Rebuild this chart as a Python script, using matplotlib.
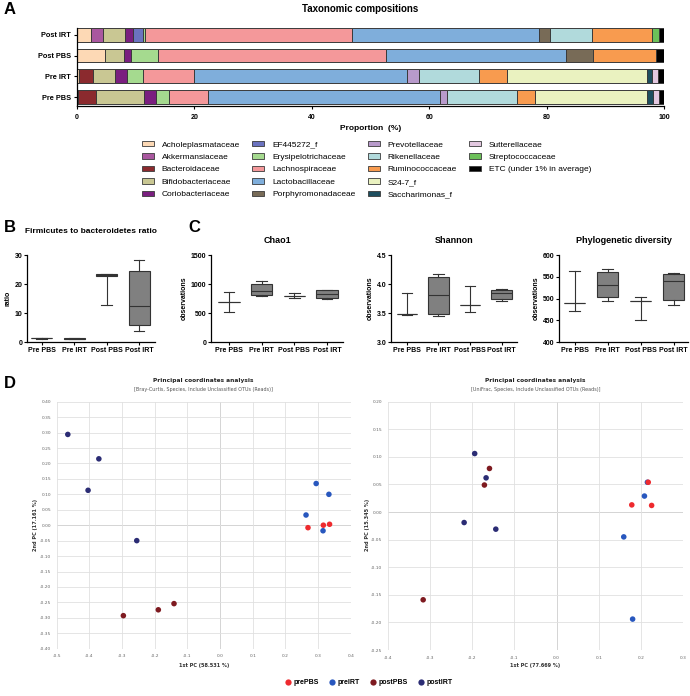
import matplotlib.pyplot as plt
from matplotlib.patches import Patch
from matplotlib.lines import Line2D
from matplotlib.ticker import MultipleLocator, FormatStrFormatter

plt.rcParams['font.family'] = ['Liberation Sans', 'DejaVu Sans']

W, H = 690, 696


def fx(px):
    return px / W


def fy(py):
    return 1 - py / H


def rect(left, top, right, bottom):
    return [fx(left), fy(bottom), (right - left) / W, (bottom - top) / H]


# ---- panel A data ----
groups = ['Pre PBS', 'Pre IRT', 'Post PBS', 'Post IRT']
families = ['Acholeplasmataceae', 'Akkermansiaceae', 'Bacteroidaceae', 'Bifidobacteriaceae',
            'Coriobacteriaceae', 'EF445272_f', 'Erysipelotrichaceae', 'Lachnospiraceae',
            'Lactobacillaceae', 'Porphyromonadaceae', 'Prevotellaceae', 'Rikenellaceae',
            'Ruminococcaceae', 'S24-7_f', 'Saccharimonas_f', 'Sutterellaceae',
            'Streptococcaceae', 'ETC (under 1% in average)']
pre_pbs = [0.1, 0, 3.16, 8.14, 2.0, 0, 2.3, 6.6, 39.5, 0, 1.3, 11.8, 3.05, 19.15, 1.1, 1.0, 0, 0.8]
pre_irt = [0.3, 0, 2.44, 3.66, 2.17, 0, 2.73, 8.7, 36.3, 0, 2.0, 10.1, 4.8, 23.9, 0.9, 0.9, 0, 1.1]
post_pbs = [4.74, 0, 0, 3.26, 1.2, 0, 4.6, 38.8, 30.7, 4.65, 0, 0, 10.65, 0, 0, 0, 0, 1.4]
post_irt = [2.3, 2.2, 0, 3.7, 1.4, 1.7, 0.3, 35.3, 31.85, 1.85, 0, 7.1, 10.2, 0, 0, 0, 1.3, 0.8]
family_colors = ['#FDD9B5', '#A9579F', '#8B2A2E', '#C9C793', '#7A1F7F', '#6B73C0', '#A5DA8F',
                 '#F4989A', '#7FAEDB', '#786B57', '#B89ACB', '#B1DADC', '#F89B4F', '#EAF2C0',
                 '#1D4E5F', '#E3C8E0', '#6CC059', '#000000']

# ---- panel B / C data (box plot statistics) ----
ratio_min = [1.3, 1.0, 12.8, 3.8]
ratio_q1 = [1.4, 1.1, 22.9, 5.8]
ratio_med = [1.4, 1.3, 23.1, 12.5]
ratio_q3 = [1.4, 1.5, 23.3, 24.4]
ratio_max = [1.5, 1.6, 23.4, 28.2]

chao_min = [520, 795, 761, 750]
chao_q1 = [700, 807, 790, 761]
chao_med = [700, 875, 790, 824]
chao_q3 = [700, 1007, 790, 892]
chao_max = [870, 1051, 853, 904]

shannon_min = [3.47, 3.455, 3.52, 3.71]
shannon_q1 = [3.48, 3.48, 3.645, 3.74]
shannon_med = [3.48, 3.81, 3.645, 3.85]
shannon_q3 = [3.48, 4.13, 3.645, 3.905]
shannon_max = [3.85, 4.18, 3.96, 3.92]

pd_min = [472, 495, 450, 486]
pd_q1 = [489, 503, 494, 497]
pd_med = [489, 531, 494, 540]
pd_q3 = [489, 560, 494, 556]
pd_max = [564, 567, 503, 558]

# ---- panel D data (PCoA) ----
point_group = ['prePBS', 'prePBS', 'prePBS', 'preIRT', 'preIRT', 'preIRT', 'preIRT',
               'postPBS', 'postPBS', 'postPBS', 'postIRT', 'postIRT', 'postIRT', 'postIRT']
bc_x = [0.269, 0.316, 0.335, 0.294, 0.333, 0.263, 0.315, -0.296, -0.189, -0.141, -0.466, -0.371, -0.404, -0.255]
bc_y = [-0.008, 0.000, 0.003, 0.135, 0.100, 0.033, -0.018, -0.293, -0.274, -0.254, 0.294, 0.215, 0.113, -0.050]
uf_x = [0.217, 0.178, 0.225, 0.215, 0.208, 0.159, 0.180, -0.159, -0.171, -0.316, -0.194, -0.167, -0.219, -0.144]
uf_y = [0.054, 0.013, 0.012, 0.054, 0.029, -0.045, -0.194, 0.079, 0.049, -0.159, 0.106, 0.062, -0.019, -0.031]
group_names = ['prePBS', 'preIRT', 'postPBS', 'postIRT']
group_colors = {'prePBS': '#EE2A2E', 'preIRT': '#2857BE', 'postPBS': '#7E1A20', 'postIRT': '#2B2C74'}

fig = plt.figure(figsize=(6.9, 6.96), dpi=100)

# ================= A =================
ax = fig.add_axes(rect(77, 27.7, 664, 106))
comp = [pre_pbs, pre_irt, post_pbs, post_irt]
lefts = [0.0] * 4
for j, fam in enumerate(families):
    widths = [g[j] for g in comp]
    ax.barh(range(4), widths, left=lefts, height=0.67, color=family_colors[j],
            edgecolor='#3a3a3a', linewidth=0.7, label=fam)
    lefts = [a + b for a, b in zip(lefts, widths)]
ax.set_xlim(0, 100)
ax.set_ylim(-0.43, 3.34)
ax.set_yticks(range(4))
ax.set_yticklabels(groups, fontsize=5.3, fontweight='bold')
ax.set_xticks([0, 20, 40, 60, 80, 100])
ax.tick_params(axis='x', labelsize=5, length=2.5, width=0.8)
ax.tick_params(axis='y', length=2.5, width=0.8, pad=2)
for lab in ax.get_xticklabels():
    lab.set_fontweight('bold')
ax.set_xlabel('Proportion  (%)', fontsize=6, fontweight='bold', labelpad=3)
for s in ['top', 'right']:
    ax.spines[s].set_visible(False)
for s in ['left', 'bottom']:
    ax.spines[s].set_linewidth(0.9)
fig.text(fx(360), fy(9), 'Taxonomic compositions', fontsize=7, fontweight='bold',
         ha='center', va='center')

# legend: 5 rows, columns filled top-down (two blank slots at the end)
handles = [Patch(facecolor=c, edgecolor='#3a3a3a', linewidth=0.6) for c in family_colors]
labels = list(families)
for _ in range(2):
    handles.append(Patch(facecolor='none', edgecolor='none'))
    labels.append('')
fig.legend(handles, labels, ncol=4, loc='upper left', bbox_to_anchor=(fx(142), fy(141)),
           frameon=False, fontsize=6, handlelength=1.45, handleheight=0.6,
           handletextpad=0.9, columnspacing=1.5, labelspacing=0.58,
           borderaxespad=0, borderpad=0)


# ================= B / C =================
def box_panel(ax, lo, q1, med, q3, hi, title, ylabel, ylim, yticks, xlim, pad, tsize):
    stats = [dict(whislo=a, q1=b, med=c, q3=d, whishi=e)
             for a, b, c, d, e in zip(lo, q1, med, q3, hi)]
    ax.bxp(stats, positions=range(4), widths=0.65, showfliers=False, patch_artist=True,
           manage_ticks=False,
           boxprops=dict(facecolor='#808080', edgecolor='#333333', linewidth=0.8),
           medianprops=dict(color='#333333', linewidth=0.8),
           whiskerprops=dict(color='#333333', linewidth=0.8),
           capprops=dict(color='#333333', linewidth=0.8))
    ax.set_xlim(*xlim)
    ax.set_ylim(*ylim)
    ax.set_yticks(yticks)
    ax.set_xticks(range(4))
    ax.set_xticklabels(groups, fontsize=5, fontweight='bold')
    for lab in ax.get_yticklabels():
        lab.set_fontsize(5)
        lab.set_fontweight('bold')
    ax.tick_params(length=2, width=0.8, pad=1.5)
    for s in ['top', 'right']:
        ax.spines[s].set_visible(False)
    for s in ['left', 'bottom']:
        ax.spines[s].set_linewidth(0.9)
    ax.set_title(title, fontsize=tsize, fontweight='bold', pad=pad)
    ax.set_ylabel(ylabel, fontsize=5, fontweight='bold', labelpad=2)


axb = fig.add_axes(rect(27, 255, 155, 342.3))
box_panel(axb, ratio_min, ratio_q1, ratio_med, ratio_q3, ratio_max,
          'Firmicutes to bacteroidetes ratio', 'ratio', (0, 30), [0, 10, 20, 30],
          (-0.45, 3.49), 16, 6)

axc1 = fig.add_axes(rect(211, 255, 343, 342.3))
box_panel(axc1, chao_min, chao_q1, chao_med, chao_q3, chao_max,
          'Chao1', 'observations', (0, 1500), [0, 500, 1000, 1500],
          (-0.55, 3.49), 8.5, 6.5)

axc2 = fig.add_axes(rect(391, 255, 517, 342.3))
box_panel(axc2, shannon_min, shannon_q1, shannon_med, shannon_q3, shannon_max,
          'Shannon', 'observations', (3.0, 4.5), [3.0, 3.5, 4.0, 4.5],
          (-0.5, 3.49), 8.5, 6.5)
axc2.yaxis.set_major_formatter(FormatStrFormatter('%.1f'))

axc3 = fig.add_axes(rect(559, 255, 688, 342.3))
box_panel(axc3, pd_min, pd_q1, pd_med, pd_q3, pd_max,
          'Phylogenetic diversity', 'observations', (400, 600), [400, 450, 500, 550, 600],
          (-0.48, 3.44), 8.5, 6.5)


# ================= D =================
def pcoa_panel(ax, xs, ys, xlim, ylim, xstep, ystep, yfmt):
    order = ['postIRT', 'postPBS', 'preIRT', 'prePBS']
    for g in order:
        px = [x for x, pg in zip(xs, point_group) if pg == g]
        py = [y for y, pg in zip(ys, point_group) if pg == g]
        ax.scatter(px, py, s=16, color=group_colors[g], edgecolors='none', zorder=3)
    ax.set_xlim(*xlim)
    ax.set_ylim(*ylim)
    ax.xaxis.set_major_locator(MultipleLocator(xstep))
    ax.yaxis.set_major_locator(MultipleLocator(ystep))
    ax.xaxis.set_major_formatter(FormatStrFormatter('%.1f'))
    ax.yaxis.set_major_formatter(FormatStrFormatter(yfmt))
    ax.grid(True, color='#e0e0e0', linewidth=0.6, zorder=0)
    ax.axhline(0, color='#a0a0a0', linewidth=0.7, zorder=1)
    ax.axvline(0, color='#a0a0a0', linewidth=0.7, zorder=1)
    for s in ax.spines.values():
        s.set_visible(False)
    ax.tick_params(length=0, labelsize=3.2, labelcolor='#666666', pad=4)
    for lab in ax.get_xticklabels() + ax.get_yticklabels():
        lab.set_family('DejaVu Sans')


axd1 = fig.add_axes(rect(56.7, 401.7, 350.8, 648.7))
pcoa_panel(axd1, bc_x, bc_y, (-0.5, 0.4), (-0.4, 0.4), 0.1, 0.05, '%.2f')
axd2 = fig.add_axes(rect(387.7, 401.7, 683.3, 650))
pcoa_panel(axd2, uf_x, uf_y, (-0.4, 0.3), (-0.25, 0.2), 0.1, 0.05, '%.2f')

dfont = 'DejaVu Sans'
for cx, sub, xl, yl, ylx in [
        (203.7, '[Bray-Curtis, Species, Include Unclassified OTUs (Reads)]',
         '1st PC (58.531 %)', '2nd PC (17.161 %)', 35),
        (535.5, '[UniFrac, Species, Include Unclassified OTUs (Reads)]',
         '1st PC (77.669 %)', '2nd PC (15.345 %)', 367)]:
    fig.text(fx(cx), fy(380.7), 'Principal coordinates analysis', family=dfont,
             fontsize=4.2, fontweight='bold', ha='center', va='center', color='#222222')
    fig.text(fx(cx), fy(390), sub, family=dfont, fontsize=3.5, ha='center',
             va='center', color='#555555')
    fig.text(fx(cx), fy(666), xl, family=dfont, fontsize=3.6, fontweight='bold',
             ha='center', va='center', color='#333333')
    fig.text(fx(ylx), fy(525), yl, family=dfont, fontsize=3.6, fontweight='bold',
             ha='center', va='center', rotation=90, color='#333333')

leg_handles = [Line2D([], [], marker='o', linestyle='none', markersize=4.5,
                      markerfacecolor=group_colors[g], markeredgecolor='none')
               for g in group_names]
fig.legend(leg_handles, group_names, ncol=4, loc='center', bbox_to_anchor=(fx(369), fy(683)),
           frameon=False, prop={'size': 5, 'weight': 'bold'}, handlelength=0.8,
           handletextpad=0.3, columnspacing=1.6, borderpad=0, borderaxespad=0)

# panel letters
for letter, px, py in [('A', 4, 9), ('B', 4, 228), ('C', 188, 228), ('D', 4, 383)]:
    fig.text(fx(px), fy(py), letter, fontsize=12, fontweight='bold', ha='left', va='center')

fig.savefig('out.png', dpi=100)
